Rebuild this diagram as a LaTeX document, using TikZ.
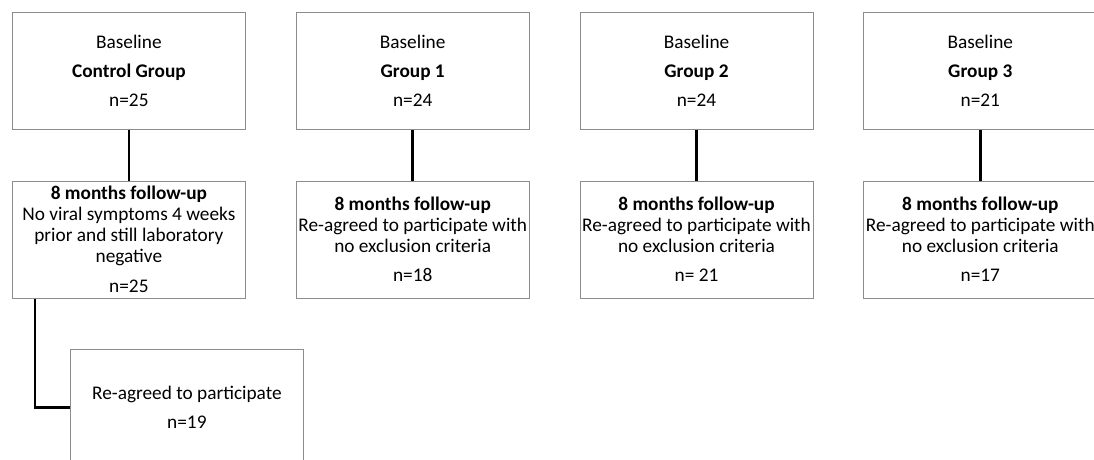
\documentclass[tikz,border=0pt]{standalone}
\usepackage{fontspec}
\setmainfont{Carlito}
\usetikzlibrary{positioning}

\begin{document}
\begin{tikzpicture}[
    x = 1pt, y = -1pt, % pixel units, y going down
    node distance = 51pt and 50pt, % gap between boxes
    box/.style = {draw = black!45, line width = 0.8pt,
        minimum width = 233pt, minimum height = 117pt,
        inner xsep = 1pt, align = center,
        font = \fontsize{19.3}{21}\selectfont},
    link/.style = {line width = 2.8pt} % connector style
    ]
    \clip (0,0) rectangle (1094,459);

    % baseline row
    \node[box, anchor = north west] (c0) at (12,12) {Baseline\\[8pt]\textbf{Control Group}\\[8pt]n=25};
    \node[box, right = of c0] (g1a) {Baseline\\[8pt]\textbf{Group 1}\\[8pt]n=24};
    \node[box, right = of g1a] (g2a) {Baseline\\[8pt]\textbf{Group 2}\\[8pt]n=24};
    \node[box, right = of g2a] (g3a) {Baseline\\[8pt]\textbf{Group 3}\\[8pt]n=21};

    % follow-up row
    \node[box, below = of c0] (c8) {\textbf{8 months follow-up}\\No viral symptoms 4 weeks\\prior and still laboratory\\negative\\[9pt]n=25};
    \node[box, below = of g1a] (g1b) {\textbf{8 months follow-up}\\Re-agreed to participate with\\no exclusion criteria\\[8pt]n=18};
    \node[box, below = of g2a] (g2b) {\textbf{8 months follow-up}\\Re-agreed to participate with\\no exclusion criteria\\[8pt]n= 21};
    \node[box, below = of g3a] (g3b) {\textbf{8 months follow-up}\\Re-agreed to participate with\\no exclusion criteria\\[8pt]n=17};

    \node[box, anchor = north west] (r8) at ([shift={(58,50)}]c8.south west) {Re-agreed to participate\\[8pt]n=19};
    \coordinate (bend) at ([xshift=23pt]c8.south west);

    \draw[link] (c0) -- (c8);
    \draw[link] (g1a) -- (g1b);
    \draw[link] (g2a) -- (g2b);
    \draw[link] (g3a) -- (g3b);
    \draw[link] (bend) |- (r8.west);
\end{tikzpicture}
\end{document}
